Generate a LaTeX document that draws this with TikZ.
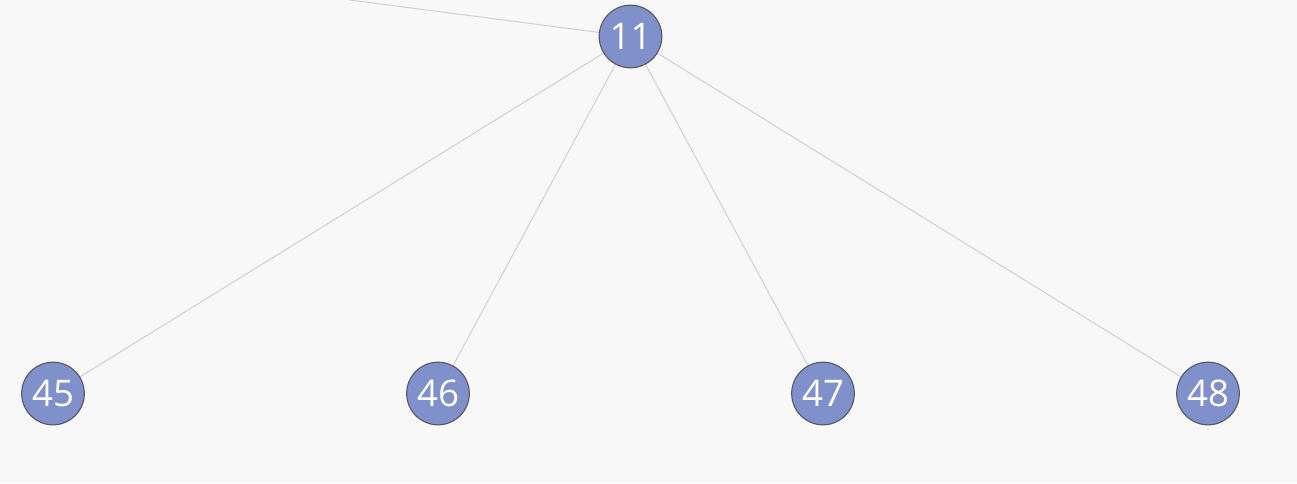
\documentclass[tikz,border=0pt]{standalone}
\usepackage{fontspec}
\setmainfont{Open Sans}
\usepackage{tikz}

\definecolor{bgcol}{RGB}{248,248,248}
\definecolor{nodefill}{RGB}{124,140,202}
\definecolor{nodeline}{RGB}{85,85,95}
\definecolor{edgecol}{RGB}{208,208,208}

\tikzset{
  treenode/.style={circle, draw={nodeline}, line width=0.8pt, fill={nodefill}, fill opacity=0.96, text opacity=1, text={white}, minimum size=47pt, inner sep=0pt, font=\fontsize{27.5}{30}\selectfont},
  treeedge/.style={draw={edgecol}, line width=0.75pt}
}

\begin{document}
\begin{tikzpicture}[x=0.75pt,y=0.75pt,yscale=-1,xscale=1]
\fill [bgcol] (0,0) rectangle (1297,483);
\clip (0,0) rectangle (1297,483);

% Centres
\coordinate (up) at (350,0);
\coordinate (c11) at (630.5,36.5);
\coordinate (c45) at (53,393.5);
\coordinate (c46) at (438,393.5);
\coordinate (c47) at (823,393.5);
\coordinate (c48) at (1208,393.5);

% Edges
\draw [treeedge] (up) -- (c11);
\draw [treeedge] (c11) -- (c45);
\draw [treeedge] (c11) -- (c46);
\draw [treeedge] (c11) -- (c47);
\draw [treeedge] (c11) -- (c48);

% Nodes
\node [treenode] (n11) at (c11) {\raisebox{-1.5pt}{11}};
\node [treenode] (n45) at (c45) {\raisebox{-1.5pt}{45}};
\node [treenode] (n46) at (c46) {\raisebox{-1.5pt}{46}};
\node [treenode] (n47) at (c47) {\raisebox{-1.5pt}{47}};
\node [treenode] (n48) at (c48) {\raisebox{-1.5pt}{48}};

\end{tikzpicture}
\end{document}
